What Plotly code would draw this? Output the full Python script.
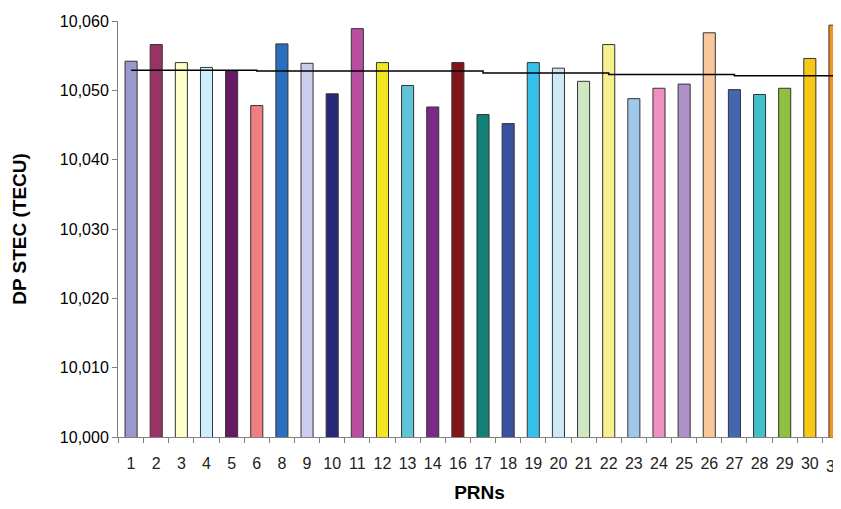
import plotly.graph_objects as go

prns = ["1","2","3","4","5","6","8","9","10","11","12","13","14","16","17","18","19","20","21","22","23","24","25","26","27","28","29","30","31"]
stec = [10.0542,10.0566,10.0540,10.0533,10.0528,10.0478,10.0567,10.0539,10.0495,10.0589,10.0540,10.0507,10.0476,10.0540,10.0465,10.0452,10.0540,10.0532,10.0513,10.0566,10.0488,10.0503,10.0509,10.0583,10.0501,10.0494,10.0503,10.0546,10.0594]
trend = [10.0529]*5 + [10.0528]*9 + [10.0525]*5 + [10.0523]*5 + [10.0521]*5
colors = ["#9999cc","#993366","#ffffcc","#cceeff","#661a66","#f08080","#2a6ebf","#ccccee","#282878","#b84fa0",
          "#f2e620","#5fc4d8","#7a2a85","#7f1518","#13807a","#3a50a0","#36c0ec","#cce9f5","#cfe8c4","#f7f08e",
          "#a0c8ea","#f090c0","#b090c8","#f9c89a","#4466b0","#40c0c8","#90c040","#f8c818","#f39420"]
yticks = [10.00,10.01,10.02,10.03,10.04,10.05,10.06]
tickfmt = [f"{v:,.3f}".replace(".", ",") for v in yticks]
xpos = list(range(len(prns)))

fig = go.Figure()
fig.add_bar(x=xpos, y=stec, marker=dict(color=colors, line=dict(color="#333333", width=1)), width=0.48)
fig.add_scatter(x=xpos + [28.3], y=trend + [trend[-1]], mode="lines", line=dict(color="black", width=1.5, shape="hv"))
fig.add_annotation(x=xpos[-1], y=0, yref="paper", yanchor="top", yshift=-19, text=prns[-1], showarrow=False,
                   font=dict(size=16, color="#222"))
fig.update_layout(
    width=833, height=501, showlegend=False, plot_bgcolor="white", paper_bgcolor="white",
    margin=dict(l=110, r=0, t=13, b=72), font=dict(family="Arial, Liberation Sans", size=16, color="black"),
)
fig.update_xaxes(range=[-0.52, 28.24], automargin=False, showline=True, linecolor="#808080",
                 tickvals=xpos[:-1], ticktext=prns[:-1], ticks="", tickangle=0, tickfont=dict(size=16, color="#222"),
                 ticklabelstandoff=12, showgrid=False, zeroline=False,
                 minor=dict(tick0=0.5, dtick=1, ticks="outside", ticklen=5, tickcolor="#808080", showgrid=False),
                 title=dict(text="<b>PRNs</b>", standoff=14))
fig.update_yaxes(range=[10.0, 10.06], automargin=False, tickvals=yticks, ticktext=tickfmt,
                 showline=True, linecolor="#808080", ticks="outside", ticklen=5, tickcolor="#808080",
                 showgrid=False, zeroline=False, title=dict(text="<b>DP STEC (TECU)</b>", standoff=28))
fig.write_html("out.html")
